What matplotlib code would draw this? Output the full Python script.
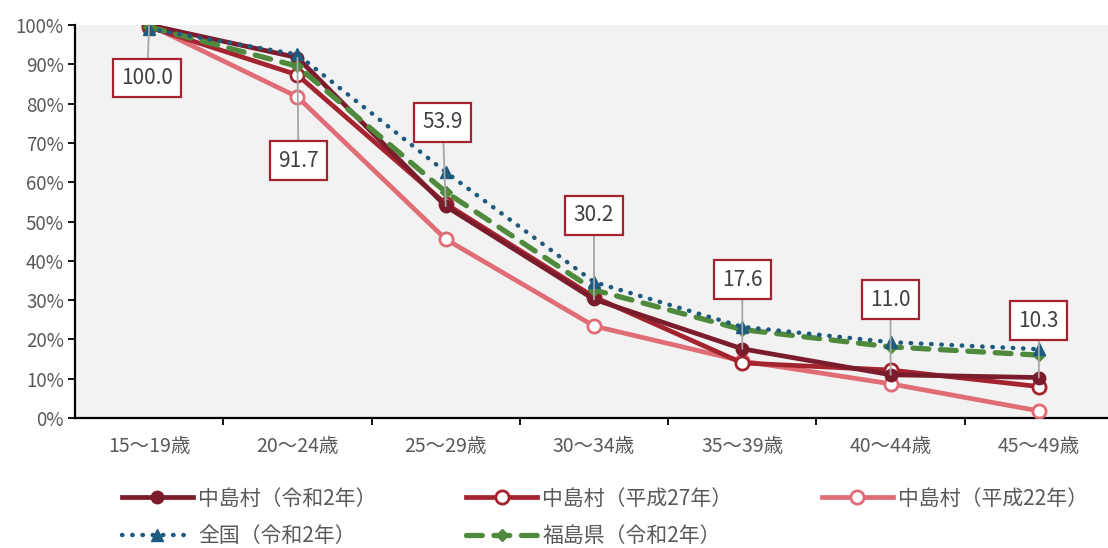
import matplotlib.pyplot as plt

plt.rcParams['font.family'] = ['Noto Sans CJK JP', 'DejaVu Sans']

ageGroups = ["15～19歳", "20～24歳", "25～29歳", "30～34歳", "35～39歳", "40～44歳", "45～49歳"]

nakajimaR2 = [100.0, 91.7, 53.9, 30.2, 17.6, 11.0, 10.3]
nakajimaH27 = [99.5, 87.3, 54.5, 30.8, 14.0, 12.2, 8.0]
nakajimaH22 = [100.0, 81.7, 45.5, 23.4, 14.5, 8.7, 1.8]
zenkokuR2 = [99.0, 92.5, 62.6, 34.6, 23.2, 19.3, 17.5]
fukushimaR2 = [99.5, 89.5, 57.5, 32.6, 22.5, 18.1, 16.0]

seriesLabels = ["中島村（令和2年）", "中島村（平成27年）", "中島村（平成22年）",
                "全国（令和2年）", "福島県（令和2年）"]

# label offsets in pixels (box centre relative to point)
labelOffsets = [(-2, -53), (1, -103), (-3, 84), (0, 84), (0, 69), (0, 75), (0, 57)]

gray = "#595959"

fig = plt.figure(figsize=(11.08, 5.48), dpi=100)
ax = fig.add_axes([75 / 1108, 1 - 418 / 548, 1038 / 1108, 393 / 548])
ax.set_facecolor("#f2f2f2")

x = list(range(len(ageGroups)))

lineR2, = ax.plot(x, nakajimaR2, color="#7a1c2c", lw=3.4, marker="o", ms=9,
                  markerfacecolor="#7a1c2c", markeredgecolor="#7a1c2c", zorder=6)
lineH27, = ax.plot(x, nakajimaH27, color="#a3232f", lw=3.4, marker="o", ms=9.5,
                   markerfacecolor="white", markeredgecolor="#a3232f", mew=2, zorder=5)
lineH22, = ax.plot(x, nakajimaH22, color="#e06c75", lw=3.4, marker="o", ms=9.5,
                   markerfacecolor="white", markeredgecolor="#e06c75", mew=2, zorder=4)
lineZen, = ax.plot(x, zenkokuR2, color="#1d5a80", lw=3.2, ls=(0, (0.1, 2.2)),
                   dash_capstyle="round", marker="^", ms=9, zorder=7)
lineFuku, = ax.plot(x, fukushimaR2, color="#4f8a3c", lw=3.8, ls=(0, (3, 2.2)),
                    dash_capstyle="round", marker="D", ms=6.5, zorder=6)

for i, v in enumerate(nakajimaR2):
    dx, dy = labelOffsets[i]
    ax.annotate(f"{v:.1f}", xy=(i, v), xytext=(dx, dy), textcoords="offset pixels",
                ha="center", va="center", fontsize=15, color="#404040",
                bbox=dict(boxstyle="square,pad=0.4", fc="white", ec="#a3232f", lw=1.6),
                arrowprops=dict(arrowstyle="-", color="#a6a6a6", lw=1.3,
                                shrinkA=0, shrinkB=0),
                zorder=10)

ax.set_xlim(-0.5, 6.5)
ax.set_ylim(0, 100)
ax.set_yticks(range(0, 101, 10))
ax.set_yticklabels([f"{t}%" for t in range(0, 101, 10)])
ax.set_xticks(x)
ax.set_xticklabels(ageGroups)
ax.set_xticks([i + 0.5 for i in range(6)], minor=True)
ax.tick_params(axis="x", which="major", length=0, pad=13, labelsize=14, labelcolor=gray)
ax.tick_params(axis="x", which="minor", length=5, width=1.3)
ax.tick_params(axis="y", length=5, width=1.3, labelsize=13.5, labelcolor=gray, pad=3)

for side in ["top", "right"]:
    ax.spines[side].set_visible(False)
ax.spines["left"].set_linewidth(1.6)
ax.spines["bottom"].set_linewidth(1.6)

lines = [lineR2, lineH27, lineH22, lineZen, lineFuku]
order = [0, 3, 1, 4, 2]
fig.legend([lines[k] for k in order], [seriesLabels[k] for k in order],
           ncol=3, loc="center left", bbox_to_anchor=(122 / 1108, 1 - 517.5 / 548),
           frameon=False, fontsize=15, handlelength=3.4, columnspacing=4.3,
           labelcolor=gray, handletextpad=0.25, labelspacing=0.75, borderpad=0,
           borderaxespad=0)

fig.savefig("out.png", dpi=100)
